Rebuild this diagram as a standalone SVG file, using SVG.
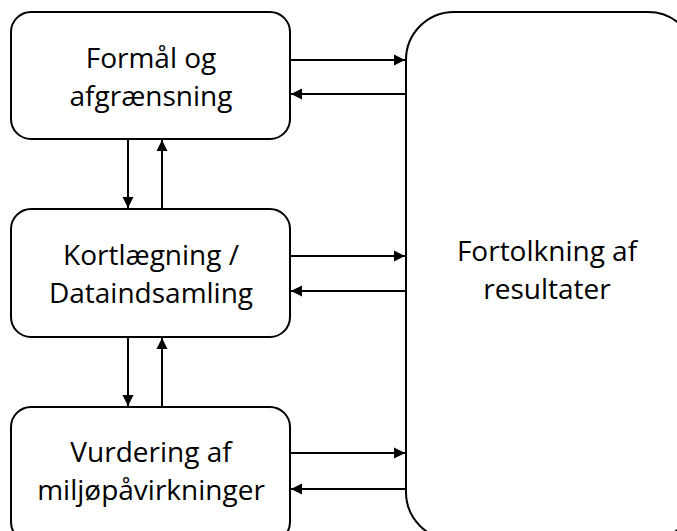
<svg xmlns="http://www.w3.org/2000/svg" width="677" height="531" viewBox="0 0 677 531">
<style>
.box{fill:#fff;stroke:#000;stroke-width:2}
.t{font-family:"Open Sans","Liberation Sans",sans-serif;font-size:28px;fill:#000;text-anchor:middle}
.c{stroke:#000;stroke-width:2;fill:none;marker-end:url(#ah)}
</style>
<defs>
<marker id="ah" markerWidth="12" markerHeight="12" refX="11" refY="6" orient="auto" markerUnits="userSpaceOnUse">
<path d="M0,0.5 L11,6 L0,11.5 Z" fill="#000"/>
</marker>
</defs>
<rect width="677" height="531" fill="#fff"/>
<g id="n1"><rect class="box" x="11" y="12" width="279" height="127" rx="20"/>
<text class="t" x="151" y="68">Formål og</text><text class="t" x="151" y="106">afgrænsning</text></g>
<g id="n2"><rect class="box" x="11" y="209" width="279" height="128" rx="20"/>
<text class="t" x="151" y="265">Kortlægning /</text><text class="t" x="151" y="303">Dataindsamling</text></g>
<g id="n3"><rect class="box" x="11" y="407" width="279" height="135" rx="20"/>
<text class="t" x="151" y="462">Vurdering af</text><text class="t" x="151" y="500">miljøpåvirkninger</text></g>
<g id="n4"><rect class="box" x="406" y="12" width="290" height="528" rx="48"/>
<text class="t" x="547" y="261">Fortolkning af</text><text class="t" x="547" y="299">resultater</text></g>
<g id="connectors">
<line class="c" x1="290" y1="60" x2="405" y2="60"/>
<line class="c" x1="406" y1="94" x2="291" y2="94"/>
<line class="c" x1="290" y1="256" x2="405" y2="256"/>
<line class="c" x1="406" y1="291" x2="291" y2="291"/>
<line class="c" x1="290" y1="453" x2="405" y2="453"/>
<line class="c" x1="406" y1="489" x2="291" y2="489"/>
<line class="c" x1="128" y1="140" x2="128" y2="208"/>
<line class="c" x1="162" y1="209" x2="162" y2="140"/>
<line class="c" x1="128" y1="338" x2="128" y2="406"/>
<line class="c" x1="162" y1="407" x2="162" y2="338"/>
</g>
</svg>
